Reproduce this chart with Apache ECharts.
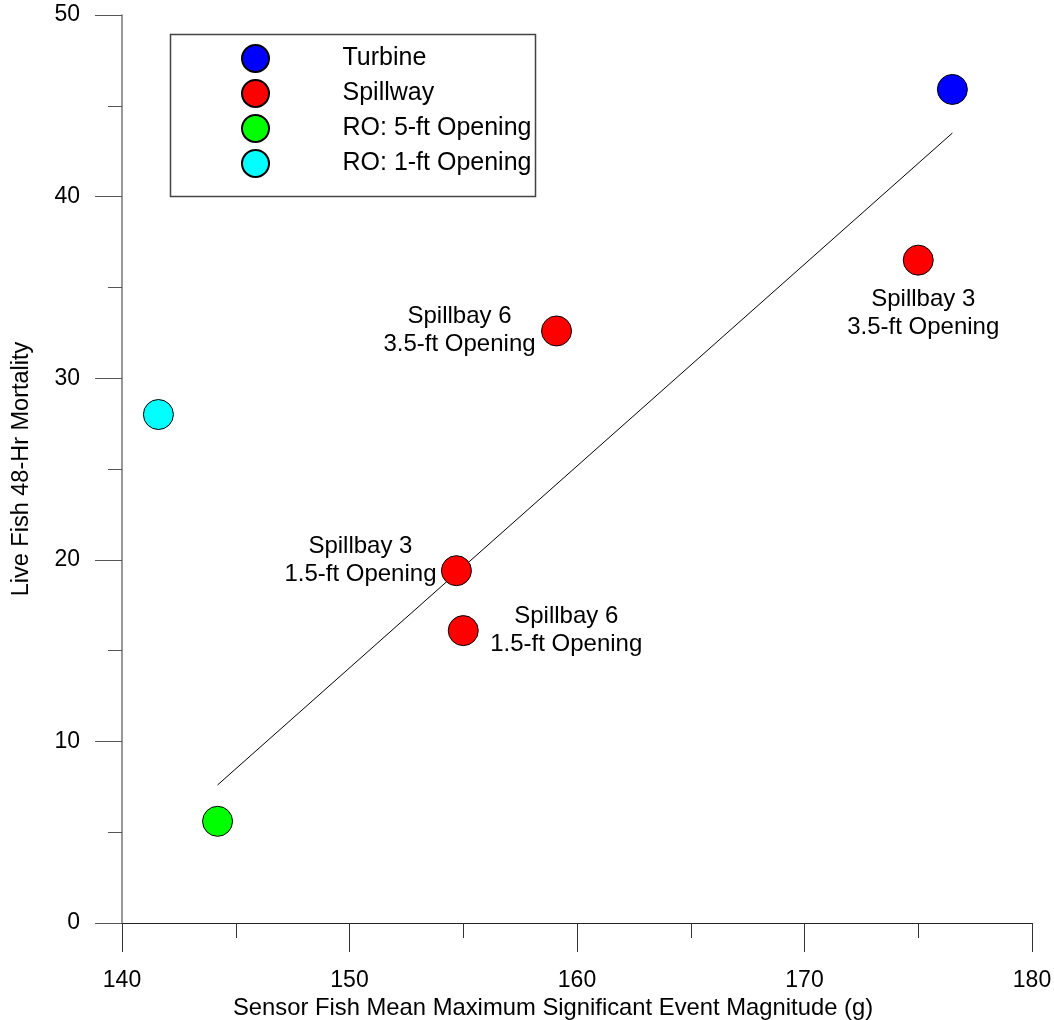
<!DOCTYPE html>
<html>
<head>
<meta charset="utf-8">
<script src="https://cdn.jsdelivr.net/npm/echarts@6/dist/echarts.min.js"></script>
<style>html,body{margin:0;padding:0;background:#fff}#c{width:1054px;height:1020px}</style>
</head>
<body>
<div id="c"></div>
<script>
// ---- data ----
var seriesNames = ['Turbine', 'Spillway', 'RO: 5-ft Opening', 'RO: 1-ft Opening'];
var turbine = [[176.5, 45.9]];
var spillway = [[175.0, 36.5], [159.1, 32.6], [154.7, 19.4], [155.0, 16.1]];
var spillwayLabels = ['Spillbay 3\n3.5-ft Opening', 'Spillbay 6\n3.5-ft Opening', 'Spillbay 3\n1.5-ft Opening', 'Spillbay 6\n1.5-ft Opening'];
var ro5 = [[144.2, 5.6]];
var ro1 = [[141.6, 28.0]];
var trend = [[144.2, 7.6], [176.5, 43.5]];
var xTitle = 'Sensor Fish Mean Maximum Significant Event Magnitude (g)';
var yTitle = 'Live Fish 48-Hr Mortality';

// ---- styles ----
var colors = ['#0000ff', '#ff0000', '#00ff00', '#00ffff'];
var labelOffsets = [[5, 53], [-97, -1], [-96, -10], [103, 0]];
var FONT = 'Arial, "Liberation Sans", sans-serif';

var chart = echarts.init(document.getElementById('c'), null, {renderer: 'canvas'});

function scatter(name, data, color) {
  return {
    name: name, type: 'scatter', data: data, symbol: 'circle', symbolSize: 30,
    itemStyle: {color: color, borderColor: '#000', borderWidth: 1, opacity: 1},
    z: 3
  };
}

var spillData = spillway.map(function (p, i) {
  return {
    value: p,
    label: {
      show: true, position: 'inside', formatter: spillwayLabels[i],
      offset: labelOffsets[i], align: 'center', verticalAlign: 'middle',
      color: '#000', fontSize: 24, lineHeight: 28, fontFamily: FONT
    }
  };
});

var option = {
  animation: false,
  backgroundColor: '#fff',
  grid: {left: 122, right: 22, top: 15, bottom: 97, containLabel: false, outerBoundsMode: 'none'},
  legend: {
    data: seriesNames, orient: 'vertical', left: 236, top: 39,
    itemWidth: 164, itemHeight: 27, itemGap: 6, selectedMode: false,
    textStyle: {color: '#000', fontSize: 25, fontFamily: FONT}
  },
  graphic: [{
    type: 'rect', left: 168, top: 32, shape: {width: 365, height: 162},
    style: {fill: 'none', stroke: '#444', lineWidth: 1.5}, z: 10
  }],
  xAxis: {
    type: 'value', min: 140, max: 180, interval: 10,
    name: xTitle, nameLocation: 'middle', nameGap: 67,
    nameTextStyle: {color: '#000', fontSize: 23.8, fontFamily: FONT, padding: [0, 48, 0, 0]},
    axisLine: {show: true, lineStyle: {color: '#222', width: 1}},
    axisTick: {show: true, inside: false, length: 29, lineStyle: {color: '#333', width: 1}},
    minorTick: {show: true, splitNumber: 2, length: 15, lineStyle: {color: '#333', width: 1}},
    axisLabel: {margin: 46, color: '#000', fontSize: 23, fontFamily: FONT},
    splitLine: {show: false}
  },
  yAxis: {
    type: 'value', min: 0, max: 50, interval: 10,
    name: yTitle, nameLocation: 'middle', nameGap: 88, nameRotate: 90,
    nameTextStyle: {color: '#000', fontSize: 23.5, fontFamily: FONT},
    axisLine: {show: true, lineStyle: {color: '#777', width: 1.5}},
    axisTick: {show: true, inside: false, length: 27, lineStyle: {color: '#555', width: 1}},
    minorTick: {show: true, splitNumber: 2, length: 14, lineStyle: {color: '#555', width: 1}},
    axisLabel: {margin: 42, color: '#000', fontSize: 23, fontFamily: FONT},
    splitLine: {show: false}
  },
  series: [
    {
      name: 'trend', type: 'line', data: trend, showSymbol: false, symbol: 'none',
      lineStyle: {color: '#000', width: 1}, z: 2, silent: true
    },
    scatter(seriesNames[0], turbine, colors[0]),
    scatter(seriesNames[1], spillData, colors[1]),
    scatter(seriesNames[2], ro5, colors[2]),
    scatter(seriesNames[3], ro1, colors[3])
  ]
};
chart.setOption(option);
</script>
</body>
</html>
